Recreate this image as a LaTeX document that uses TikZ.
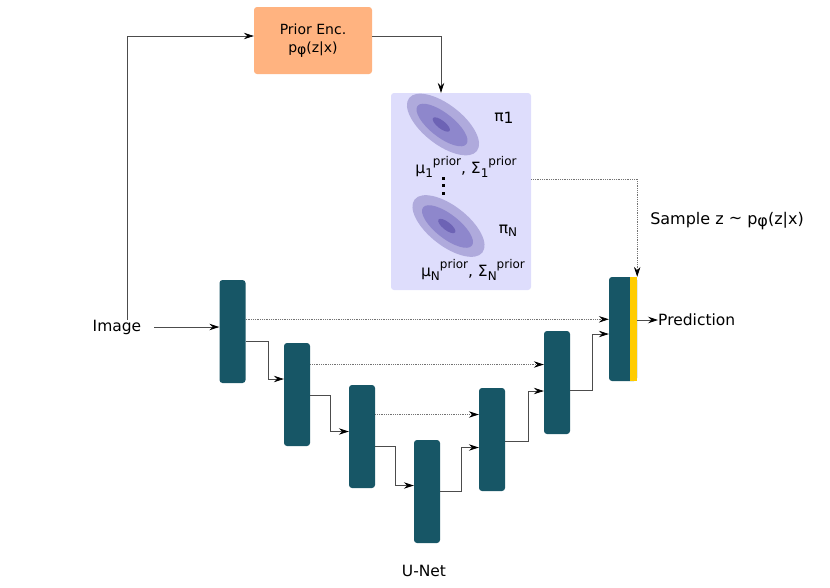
\documentclass[tikz,border=0pt]{standalone}
\usepackage{fontspec}
\setmainfont{DejaVu Sans}
\usetikzlibrary{arrows.meta,calc}
\definecolor{teal}{HTML}{175666}
\definecolor{encorange}{HTML}{FFB380}
\definecolor{priorbg}{HTML}{DEDDFC}
\definecolor{ellA}{HTML}{AFAADC}
\definecolor{ellB}{HTML}{8E87CC}
\definecolor{ellC}{HTML}{6D63B5}
\definecolor{ybar}{HTML}{FFCC00}
\newcommand{\lowphi}{\raisebox{-0.18em}{φ}}
\newcommand{\mysup}[1]{\raisebox{0.5em}{\fontsize{12}{12}\selectfont #1}}
\newcommand{\mysub}[1]{\raisebox{-0.22em}{\fontsize{12}{12}\selectfont #1}}
\tikzset{
  block/.style={fill=teal, draw=none, rounded corners=3pt, minimum width=26pt, minimum height=103pt, inner sep=0pt},
  tip/.style={-{Stealth[length=10pt,width=6.5pt,inset=3.5pt,color=black]}},
  conn/.style={draw=black!70, line width=0.7pt, tip},
  skip/.style={draw=black!55, line width=0.7pt, dash pattern=on 1pt off 0.8pt, tip},
  lbl/.style={font=\fontsize{15.5}{18}\selectfont, inner sep=0pt},
  smalllbl/.style={font=\fontsize{15.5}{16}\selectfont, inner sep=0pt},
}
\begin{document}
\begin{tikzpicture}[x=1pt,y=-1pt]
\useasboundingbox (0,0) rectangle (830,587);
% prior encoder
\node[fill=encorange, rounded corners=3pt, minimum width=118pt, minimum height=67pt, inner sep=0pt,
      align=center, font=\fontsize{14}{18}\selectfont] (pe) at (313,40.5) {Prior Enc.\\p\lowphi(z|x)};
% prior box
\node[fill=priorbg, rounded corners=3pt, minimum width=140pt, minimum height=197pt, inner sep=0pt] (pb) at (461,191.5) {};
% ellipses group 1
\fill[ellA, rotate around={-38:(443,124.5)}] (443,124.5) ellipse [x radius=43, y radius=20];
\fill[ellB, rotate around={-38:(442,125)}] (442,125) ellipse [x radius=31, y radius=12];
\fill[ellC, rotate around={-38:(441.3,124.5)}] (441.3,124.5) ellipse [x radius=10.5, y radius=4];
% ellipses group 2
\fill[ellA, rotate around={-38:(448.5,226)}] (448.5,226) ellipse [x radius=43, y radius=20];
\fill[ellB, rotate around={-38:(447.5,226.5)}] (447.5,226.5) ellipse [x radius=31, y radius=12];
\fill[ellC, rotate around={-38:(446.8,226)}] (446.8,226) ellipse [x radius=10.5, y radius=4];
\node[smalllbl] (pi1) at (504,118) {π\raisebox{-0.12em}{1}};
\node[smalllbl] (piN) at (508,231) {π\mysub{N}};
\node[smalllbl] (mu1) at (466,167) {μ\mysub{1}\mysup{prior}, Σ\mysub{1}\mysup{prior}};
\node[smalllbl] (muN) at (473,270) {μ\mysub{N}\mysup{prior}, Σ\mysub{N}\mysup{prior}};
\fill[black] (441.7,176.7) rectangle (444.7,179.7);
\fill[black] (441.7,184) rectangle (444.7,187);
\fill[black] (441.7,191.5) rectangle (444.7,194.5);
% U-Net blocks
\node[block] (b1) at (232.5,331.5) {};
\node[block] (b2) at (297,394.5) {};
\node[block] (b3) at (362,436.5) {};
\node[block] (b4) at (427,491.5) {};
\node[block] (b5) at (492,439.5) {};
\node[block] (b6) at (557,382.5) {};
\node[block, minimum width=28pt, minimum height=104pt] (b7) at (623,329) {};
\node[fill=ybar, minimum width=7pt, minimum height=104pt, inner sep=0pt] (y7) at (633.5,329) {};
% labels
\node[lbl] (image) at (117,327) {Image};
\node[lbl, anchor=west] (pred) at (658,320) {Prediction};
\node[lbl, font=\fontsize{16}{18}\selectfont] (sample) at (727,221) {Sample z \raisebox{0.05em}{\char"223C} p\lowphi(z|x)};
\node[lbl] (unet) at (424,571) {U-Net};
% connectors
\draw[conn] (image.north -| 127,0) |- (pe.west |- 0,36);
\draw[conn] (pe.east |- 0,36) -| (pb.north -| 441,0);
\draw[conn] ([xshift=13pt]image.east) -- (image.east -| b1.west);
\draw[skip] (pb.east |- 0,179) -| (y7.north east);
\draw[conn] (y7.east |- pred.west) -- (pred.west);
% encoder/decoder path
\draw[conn] (b1.east |- 0,341) -- (268,341) -- (268,379) -- (b2.west |- 0,379);
\draw[conn] (b2.east |- 0,395.5) -- (330,395.5) -- (330,431.5) -- (b3.west |- 0,431.5);
\draw[conn] (b3.east |- 0,446.5) -- (395,446.5) -- (395,485.5) -- (b4.west |- 0,485.5);
\draw[conn] (b4.east |- 0,491.5) -- (461.5,491.5) -- (461.5,447.5) -- (b5.west |- 0,447.5);
\draw[conn] (b5.east |- 0,441.5) -- (528.5,441.5) -- (528.5,391) -- (b6.west |- 0,391);
\draw[conn] (b6.east |- 0,390.5) -- (592.5,390.5) -- (592.5,334) -- (b7.west |- 0,334);
% skip connections
\draw[skip] (b1.east |- 0,319.3) -- (b7.west |- 0,319.3);
\draw[skip] (b2.east |- 0,364.5) -- (b6.west |- 0,364.5);
\draw[skip] (b3.east |- 0,414.5) -- (b5.west |- 0,414.5);
\end{tikzpicture}
\end{document}
